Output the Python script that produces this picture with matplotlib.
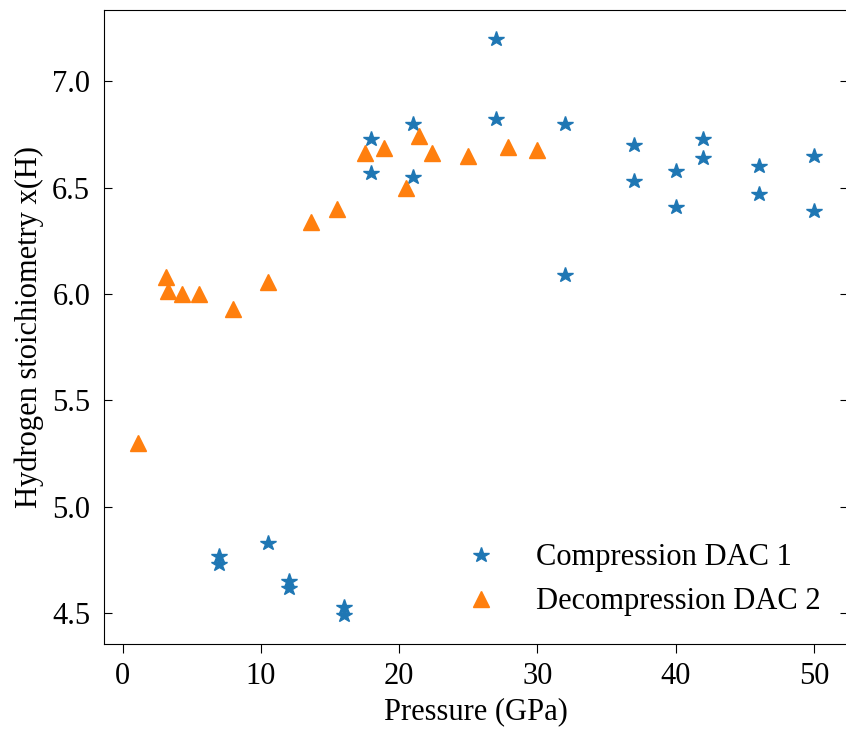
import matplotlib.pyplot as plt

plt.rcParams["font.family"] = ["Liberation Serif", "DejaVu Serif"]
plt.rcParams["font.size"] = 22

# Compression DAC 1 (stars)
comp_p = [27, 21, 18, 18, 21, 27, 32, 32, 37, 37, 40, 40, 42, 42, 46, 46, 50, 50,
          7, 7, 10.5, 12, 12, 16, 16]
comp_x = [7.20, 6.80, 6.73, 6.57, 6.55, 6.82, 6.80, 6.09, 6.70, 6.53, 6.58, 6.41,
          6.73, 6.64, 6.60, 6.47, 6.65, 6.39,
          4.77, 4.73, 4.83, 4.65, 4.62, 4.53, 4.49]

# Decompression DAC 2 (triangles)
decomp_p = [30.0, 27.9, 25.0, 22.4, 21.4, 20.5, 18.9, 17.5, 15.5, 13.6, 10.5, 8.0,
            5.5, 4.3, 3.3, 3.1, 1.1]
decomp_x = [6.675, 6.69, 6.65, 6.66, 6.74, 6.50, 6.685, 6.66, 6.40, 6.34, 6.055, 5.93,
            6.00, 6.00, 6.015, 6.08, 5.30]

fig = plt.figure(figsize=(8.46, 7.29), dpi=100)
ax = fig.add_axes([0.123, 0.1166, 0.879, 0.870])

ax.plot(comp_p, comp_x, linestyle="none", marker="*", markersize=11.5,
        color="#1f77b4", label="Compression DAC 1")
ax.plot(decomp_p, decomp_x, linestyle="none", marker="^", markersize=12,
        color="#ff7f0e", label="Decompression DAC 2")

ax.set_xlabel("Pressure (GPa)", labelpad=4.5)
ax.set_ylabel("Hydrogen stoichiometry x(H)", labelpad=5.5)
ax.tick_params(axis="y", direction="in", right=True, length=6, pad=10)
ax.tick_params(axis="x", direction="out", length=6.5, pad=6.5)
ax.legend(loc="lower right", frameon=False)

fig.savefig("out.png", dpi=100)
